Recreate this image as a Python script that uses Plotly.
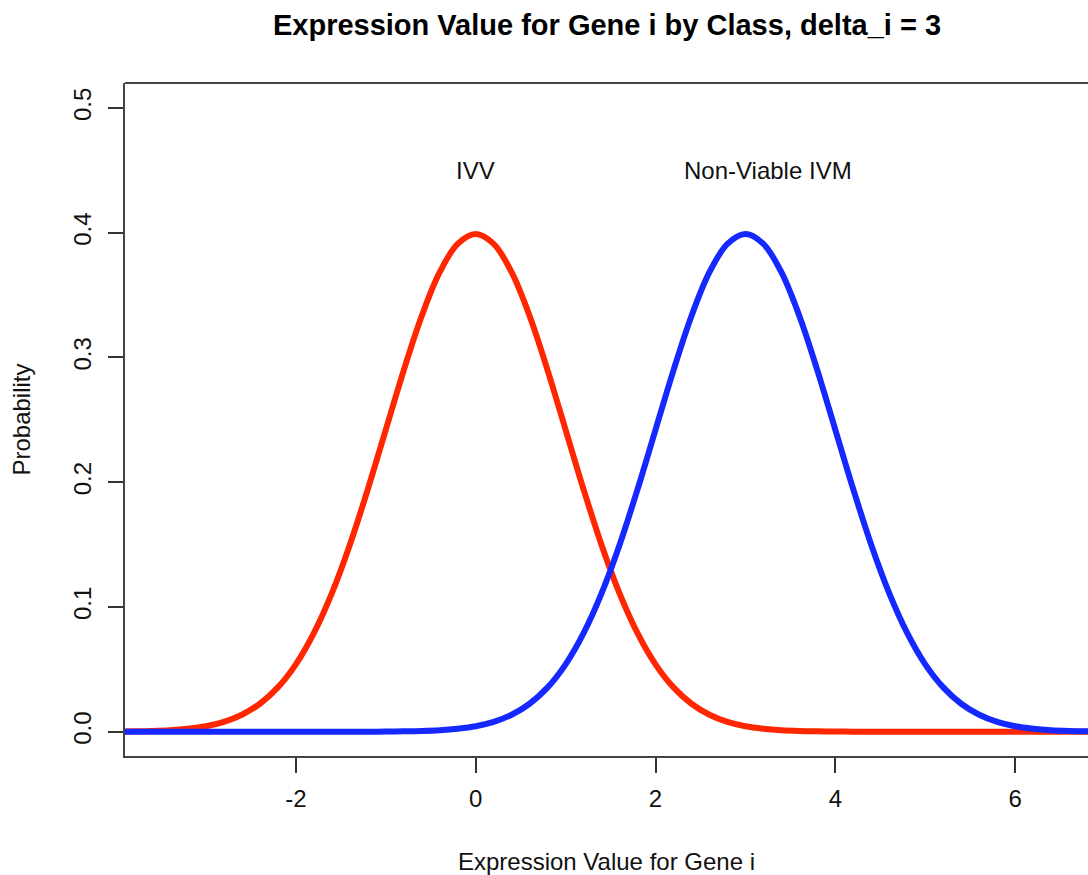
import plotly.graph_objects as go

x_vals = [-4.0, -3.8, -3.6, -3.4, -3.2, -3.0, -2.8, -2.6, -2.4, -2.2,
          -2.0, -1.8, -1.6, -1.4, -1.2, -1.0, -0.8, -0.6, -0.4, -0.2,
          0.0, 0.2, 0.4, 0.6, 0.8, 1.0, 1.2, 1.4, 1.6, 1.8,
          2.0, 2.2, 2.4, 2.6, 2.8, 3.0, 3.2, 3.4, 3.6, 3.8,
          4.0, 4.2, 4.4, 4.6, 4.8, 5.0, 5.2, 5.4, 5.6, 5.8,
          6.0, 6.2, 6.4, 6.6, 6.8, 7.0]

# IVV class (red), peak at 0
ivv = [0.0001, 0.0003, 0.0006, 0.0012, 0.0024, 0.0044, 0.0079, 0.0136, 0.0224, 0.0355,
       0.0540, 0.0790, 0.1109, 0.1497, 0.1942, 0.2420, 0.2897, 0.3332, 0.3683, 0.3910,
       0.3989, 0.3910, 0.3683, 0.3332, 0.2897, 0.2420, 0.1942, 0.1497, 0.1109, 0.0790,
       0.0540, 0.0355, 0.0224, 0.0136, 0.0079, 0.0044, 0.0024, 0.0012, 0.0006, 0.0003,
       0.0001, 0.0000, 0.0000, 0.0000, 0.0000, 0.0000, 0.0000, 0.0000, 0.0000, 0.0000,
       0.0000, 0.0000, 0.0000, 0.0000, 0.0000, 0.0000]

# Non-Viable IVM class (blue), peak at 3
ivm = [0.0000, 0.0000, 0.0000, 0.0000, 0.0000, 0.0000, 0.0000, 0.0000, 0.0000, 0.0000,
       0.0000, 0.0000, 0.0000, 0.0000, 0.0000, 0.0001, 0.0003, 0.0006, 0.0012, 0.0024,
       0.0044, 0.0079, 0.0136, 0.0224, 0.0355, 0.0540, 0.0790, 0.1109, 0.1497, 0.1942,
       0.2420, 0.2897, 0.3332, 0.3683, 0.3910, 0.3989, 0.3910, 0.3683, 0.3332, 0.2897,
       0.2420, 0.1942, 0.1497, 0.1109, 0.0790, 0.0540, 0.0355, 0.0224, 0.0136, 0.0079,
       0.0044, 0.0024, 0.0012, 0.0006, 0.0003, 0.0001]

x_ticks = [-2, 0, 2, 4, 6]
x_tick_text = ["-2", "0", "2", "4", "6"]
y_ticks = [0.0, 0.1, 0.2, 0.3, 0.4, 0.5]
y_tick_text = ["0.0", "0.1", "0.2", "0.3", "0.4", "0.5"]

labels = ["IVV", "Non-Viable IVM"]
label_x = [0.0, 3.25]
label_y = [0.45, 0.45]

FONT = "Liberation Sans, Arial, Helvetica, sans-serif"

fig = go.Figure()
fig.add_trace(go.Scatter(x=x_vals, y=ivv, mode="lines",
                         line=dict(color="#ff2600", width=6, shape="spline", smoothing=1),
                         showlegend=False))
fig.add_trace(go.Scatter(x=x_vals, y=ivm, mode="lines",
                         line=dict(color="#1428ff", width=6, shape="spline", smoothing=1),
                         showlegend=False))

for t, xx, yy in zip(labels, label_x, label_y):
    fig.add_annotation(x=xx, y=yy, text=t, showarrow=False,
                       font=dict(family=FONT, size=24, color="#111"),
                       xanchor="center", yanchor="middle")

fig.add_shape(type="line", xref="paper", yref="paper", x0=0, x1=1, y0=1, y1=1,
              line=dict(color="#444", width=2))

fig.update_layout(
    width=1088, height=875,
    margin=dict(l=125, r=0, t=83, b=119),
    paper_bgcolor="white", plot_bgcolor="white",
    font=dict(family=FONT, size=24, color="#111"),
    title=dict(text="Expression Value for Gene i by Class, delta_i = 3",
               x=607 / 1088, xanchor="center", xref="container",
               y=1 - 25 / 875, yanchor="middle", yref="container",
               font=dict(family=FONT, size=29, color="#000", weight="bold")),
    xaxis=dict(range=[-3.9, 6.81], tickvals=x_ticks, ticktext=x_tick_text,
               ticks="outside", ticklen=15, ticklabelstandoff=5,
               tickwidth=2, tickcolor="#333", showline=True, linecolor="#444", linewidth=2,
               showgrid=False, zeroline=False,
               tickfont=dict(family=FONT, size=24, color="#111"),
               title=dict(text="Expression Value for Gene i", standoff=46,
                          font=dict(family=FONT, size=24, color="#111"))),
    yaxis=dict(range=[-0.0195, 0.52], tickvals=y_ticks, ticktext=y_tick_text,
               tickangle=-90, ticks="outside", ticklen=15, ticklabelstandoff=7,
               tickwidth=2, tickcolor="#333",
               showline=True, linecolor="#444", linewidth=2,
               showgrid=False, zeroline=False,
               tickfont=dict(family=FONT, size=24, color="#111"),
               title=dict(text="Probability", standoff=32,
                          font=dict(family=FONT, size=24, color="#111"))),
)

fig.write_html("out.html")
